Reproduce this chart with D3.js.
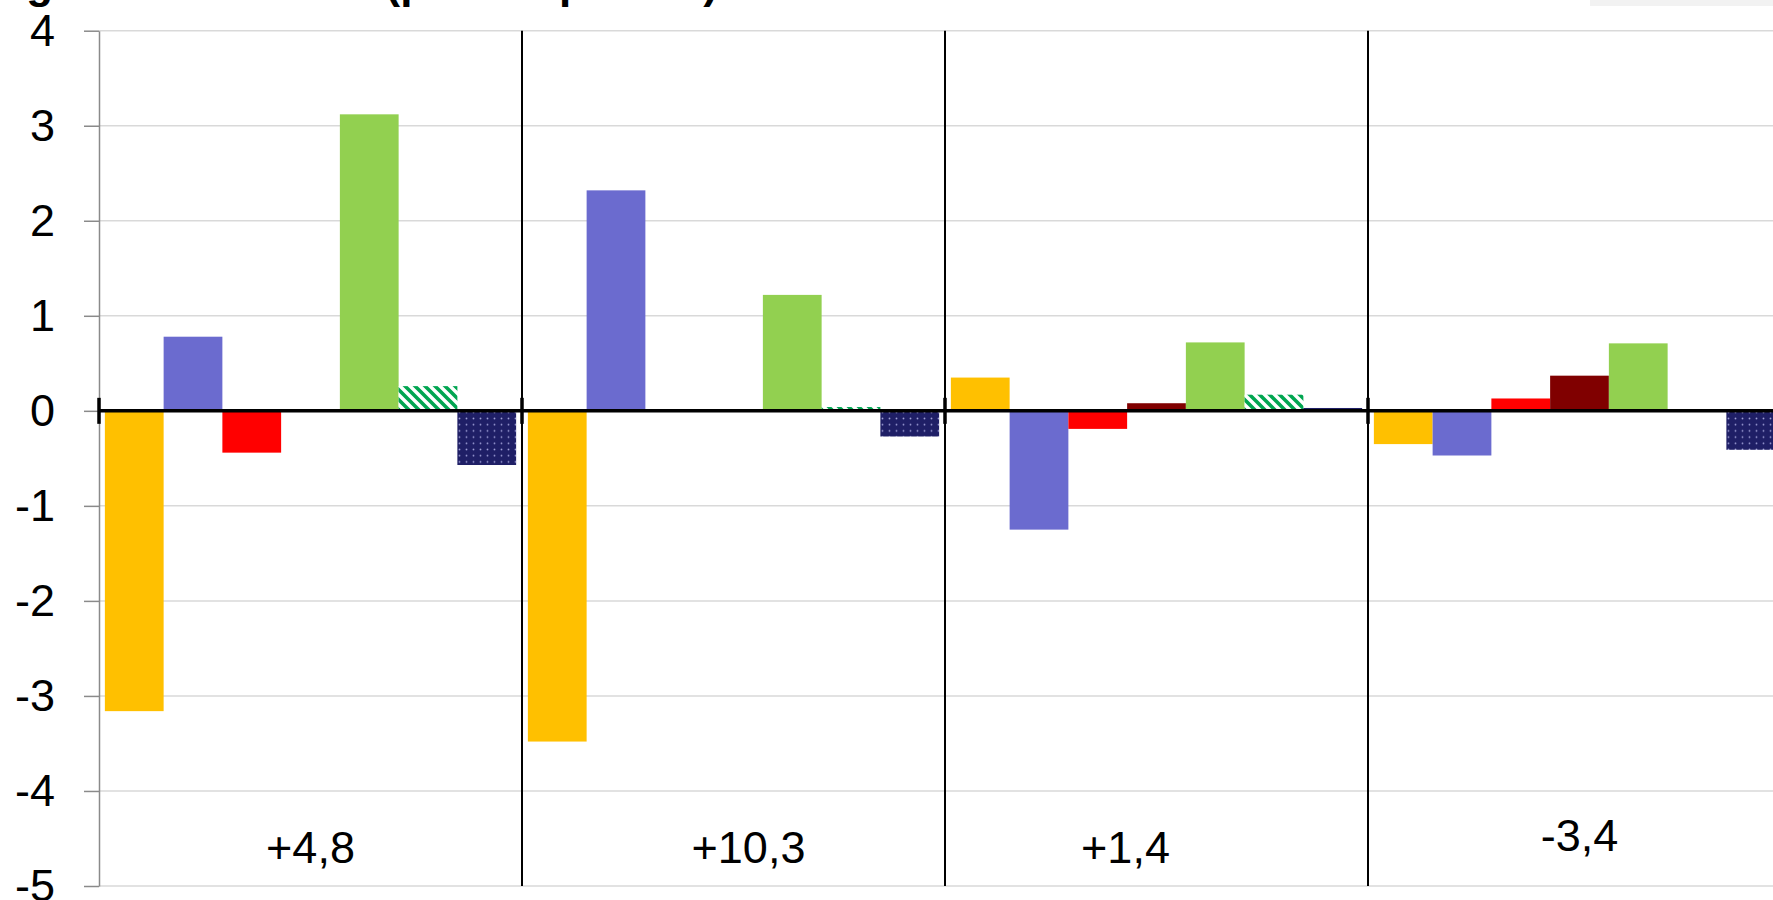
<!DOCTYPE html>
<html><head><meta charset="utf-8">
<script src="https://cdn.jsdelivr.net/npm/d3@7"></script>
<style>
body{margin:0;background:#fff;overflow:hidden}
svg{display:block}
text{font-family:"Liberation Sans", Arial, sans-serif}
</style>
</head><body>
<svg id="c" width="1773" height="900"></svg>
<script>
// ---- data ----
const groups = ["A", "B", "C", "D"];
const groupTotals = ["+4,8", "+10,3", "+1,4", "-3,4"];
const seriesKeys = ["yellow", "violet", "red", "darkred", "green", "hatch", "navy"];
const yellowVals  = [-3.16, -3.48,  0.35, -0.35];
const violetVals  = [ 0.78,  2.32, -1.25, -0.47];
const redVals     = [-0.44,  0.00, -0.19,  0.13];
const darkredVals = [ 0.00,  0.00,  0.08,  0.37];
const greenVals   = [ 3.12,  1.22,  0.72,  0.71];
const hatchVals   = [ 0.26,  0.04,  0.17,  0.00];
const navyVals    = [-0.57, -0.27,  0.03, -0.41];
const yTicks = [4, 3, 2, 1, 0, -1, -2, -3, -4, -5];
const titleText = "Wachstumsbeiträge der Branchen (prozentpunkte)";

const valuesByKey = {yellow: yellowVals, violet: violetVals, red: redVals, darkred: darkredVals,
                     green: greenVals, hatch: hatchVals, navy: navyVals};

// ---- styles / layout ----
const fills = {yellow: "#FFC000", violet: "#6B6BCF", red: "#FF0000", darkred: "#800000",
               green: "#92D050", hatch: "url(#hatch)", navy: "url(#dots)"};
const labelNudge = [[0, 0], [15, 0], [-31, 0], [0, -12]];

const svg = d3.select("#c");
const W = 1773, H = 900;
const left = 99, groupW = 423;

const defs = svg.append("defs");
const ph = defs.append("pattern").attr("id", "hatch").attr("patternUnits", "userSpaceOnUse")
  .attr("width", 10).attr("height", 10);
ph.append("rect").attr("width", 10).attr("height", 10).attr("fill", "#fff");
ph.append("path").attr("d", "M-3,-3 L13,13 M-3,7 L3,13 M7,-3 L13,3")
  .attr("stroke", "#00A550").attr("stroke-width", 3.6);
const pd = defs.append("pattern").attr("id", "dots").attr("patternUnits", "userSpaceOnUse")
  .attr("width", 7).attr("height", 6.2);
pd.append("rect").attr("width", 7).attr("height", 6.2).attr("fill", "#1F1F66");
pd.append("circle").attr("cx", 3.5).attr("cy", 3.1).attr("r", 0.9).attr("fill", "#9d9dd6");

const x0 = d3.scaleBand().domain(groups).range([left, left + groupW * groups.length]).padding(0);
const x1 = d3.scaleBand().domain(seriesKeys).range([0, x0.bandwidth()]).paddingInner(0).paddingOuter(0.1);
const y = d3.scaleLinear().domain([-5, 4]).range([886, 30.7]);

// title (mostly cropped at top)
svg.append("text").attr("x", 718).attr("y", -2).attr("text-anchor", "end")
  .attr("font-size", 44).attr("font-weight", "bold").attr("fill", "#000").text(titleText);

// top-right grey box
svg.append("rect").attr("x", 1590).attr("y", -30).attr("width", 200).attr("height", 36).attr("fill", "#f2f2f2");

// gridlines
svg.append("g").selectAll("line").data(yTicks).join("line")
  .attr("x1", left).attr("x2", W).attr("y1", d => y(d)).attr("y2", d => y(d))
  .attr("stroke", "#d9d9d9").attr("stroke-width", 1.5);

// y axis
const ya = svg.append("g").attr("transform", `translate(${left},0)`)
  .call(d3.axisLeft(y).tickValues(yTicks).tickSize(15).tickSizeOuter(0).tickPadding(29)
    .tickFormat(d => String(d)));
ya.select(".domain").attr("stroke", "#8a8a8a").attr("stroke-width", 1.5);
ya.selectAll(".tick line").attr("stroke", "#8a8a8a").attr("stroke-width", 1.5);
ya.selectAll(".tick text").attr("font-size", 45).attr("fill", "#000")
  .attr("font-family", "'Liberation Sans', Arial, sans-serif");

// group separators
svg.append("g").selectAll("line").data(groups.slice(1)).join("line")
  .attr("x1", d => x0(d)).attr("x2", d => x0(d)).attr("y1", y(4)).attr("y2", y(-5))
  .attr("stroke", "#000").attr("stroke-width", 2);

// bars
const gg = svg.append("g").selectAll("g").data(groups).join("g")
  .attr("transform", d => `translate(${x0(d)},0)`);
gg.selectAll("rect").data((g, gi) => seriesKeys.map(k => ({k, v: valuesByKey[k][gi]})))
  .join("rect")
  .attr("x", d => x1(d.k)).attr("width", x1.bandwidth())
  .attr("y", d => y(Math.max(0, d.v))).attr("height", d => Math.abs(y(d.v) - y(0)))
  .attr("fill", d => fills[d.k]);

// zero line + category ticks
svg.append("line").attr("x1", left).attr("x2", W).attr("y1", y(0)).attr("y2", y(0))
  .attr("stroke", "#000").attr("stroke-width", 3.5);
svg.append("g").selectAll("line").data(groups).join("line")
  .attr("x1", d => x0(d)).attr("x2", d => x0(d)).attr("y1", y(0) - 13).attr("y2", y(0) + 13)
  .attr("stroke", "#000").attr("stroke-width", 3.5);

// group totals
svg.append("g").selectAll("text").data(groups).join("text")
  .attr("x", (d, i) => x0(d) + x0.bandwidth() / 2 + labelNudge[i][0])
  .attr("y", (d, i) => y(-5) - 23 + labelNudge[i][1])
  .attr("text-anchor", "middle").attr("font-size", 45).attr("fill", "#000")
  .text((d, i) => groupTotals[i]);
</script>
</body></html>
